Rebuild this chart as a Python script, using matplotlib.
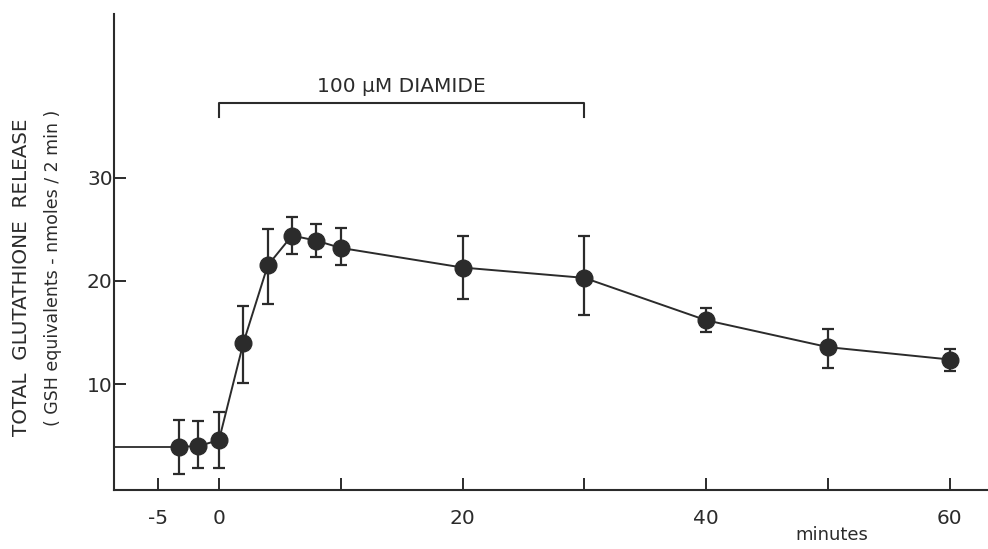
import matplotlib
matplotlib.use("Agg")
import matplotlib.pyplot as plt

# ---- data ----
time_min = [-3.3, -1.75, 0, 2, 4, 6, 8, 10, 20, 30, 40, 50, 60]
gsh_release = [3.96, 4.0, 4.6, 14.0, 21.5, 24.4, 23.9, 23.2, 21.3, 20.3, 16.2, 13.6, 12.4]
err_upper = [6.5, 6.4, 7.3, 17.6, 25.0, 26.2, 25.5, 25.1, 24.4, 24.4, 17.4, 15.4, 13.4]
err_lower = [1.3, 1.9, 1.9, 10.1, 17.8, 22.6, 22.3, 21.5, 18.3, 16.7, 15.1, 11.6, 11.3]

diamide_start, diamide_end = 0, 30
diamide_label = "100 μM DIAMIDE"

x_ticks = [-5, 0, 10, 20, 30, 40, 50, 60]
x_ticklabels = ["-5", "0", "", "20", "", "40", "", "60"]
y_ticks = [10, 20, 30]
y_ticklabels = ["10", "20", "30"]

ink = "#2b2b2b"

fig = plt.figure(figsize=(9.88, 5.49), dpi=100)
fig.patch.set_facecolor("white")
ax = fig.add_axes([114 / 988, 59 / 549, 1 - 114 / 988, 476 / 549])
ax.set_xlim(-8.62, 63.14)
ax.set_ylim(-0.23, 45.84)

for s in ["top", "right"]:
    ax.spines[s].set_visible(False)
for s in ["left", "bottom"]:
    ax.spines[s].set_linewidth(1.5)
    ax.spines[s].set_color(ink)

# baseline before first sample
xl = ax.get_xlim()[0]
ax.plot([xl, time_min[0]], [gsh_release[0], gsh_release[0]], color=ink, lw=1.3,
        solid_capstyle="butt", clip_on=False)

yerr = [[v - lo for v, lo in zip(gsh_release, err_lower)],
        [hi - v for v, hi in zip(gsh_release, err_upper)]]
ax.errorbar(time_min, gsh_release, yerr=yerr, fmt="o-", color=ink, ecolor=ink,
            lw=1.4, elinewidth=1.6, capsize=4, capthick=1.6,
            markersize=12, markerfacecolor=ink, markeredgecolor=ink, zorder=3)

# treatment bracket
ax.plot([diamide_start, diamide_start, diamide_end, diamide_end],
        [35.9, 37.2, 37.2, 35.9], color=ink, lw=1.5)
ax.text((diamide_start + diamide_end) / 2, 38.85, diamide_label, ha="center",
        va="center", fontsize=14.5, color=ink)

ax.set_xticks(x_ticks)
ax.set_xticklabels(x_ticklabels)
ax.set_yticks(y_ticks)
ax.set_yticklabels(y_ticklabels)
ax.tick_params(axis="x", direction="in", length=8.5, width=1.4, colors=ink,
               labelsize=14.5, pad=14)
ax.tick_params(axis="y", direction="in", length=8.5, width=1.4, colors=ink,
               labelsize=14.5, pad=1)

fig.text(832 / 988, 1 - 535 / 549, "minutes", ha="center", va="center",
         fontsize=13, color=ink)
fig.text(22 / 988, 1 - 277.5 / 549, "TOTAL  GLUTATHIONE  RELEASE", rotation=90,
         ha="center", va="center", fontsize=14.3, color=ink)
fig.text(53 / 988, 1 - 267.5 / 549, "( GSH equivalents - nmoles / 2 min )",
         rotation=90, ha="center", va="center", fontsize=12.5, color=ink)

fig.savefig("out.png", dpi=100, facecolor="white")
